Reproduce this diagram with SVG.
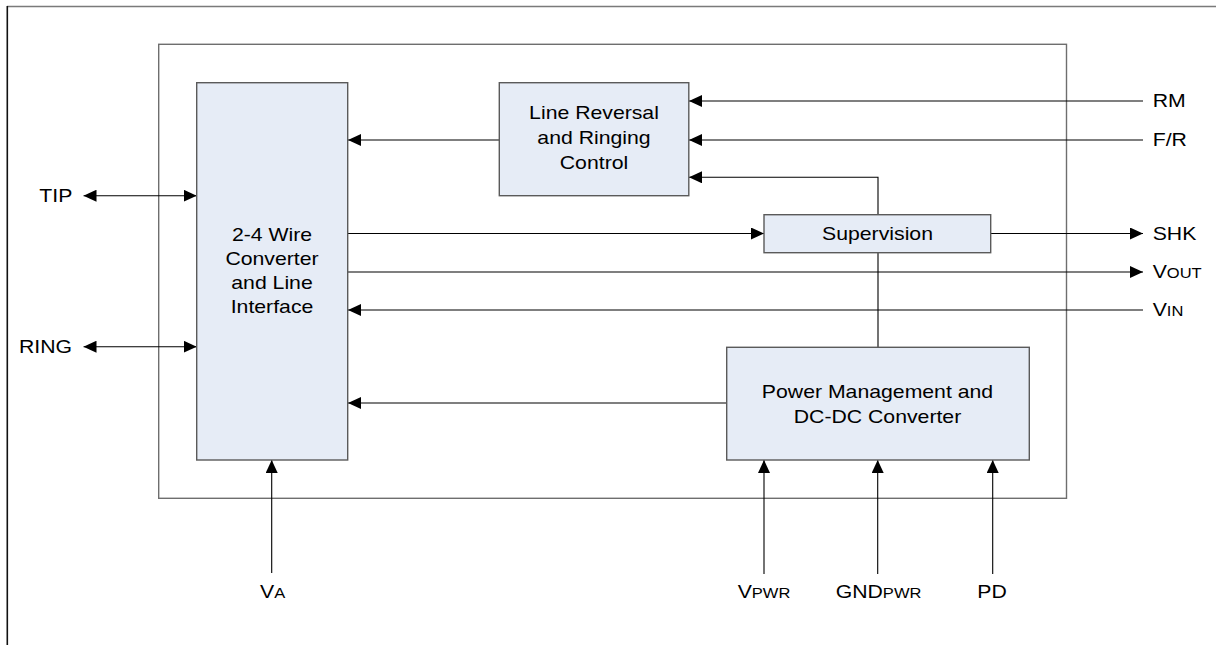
<svg xmlns="http://www.w3.org/2000/svg" width="1216" height="645" viewBox="0 0 1216 645">
<defs>
<style>
.frame{fill:none;stroke:#6e6e6e;stroke-width:1.4}
.box{fill:#e6ecf6;stroke:#5a5a5a;stroke-width:1.4}
.ln{fill:none;stroke:#000;stroke-width:1.1}
.t{font-family:"Liberation Sans",Arial,sans-serif;font-size:18px;fill:#000}
.c{text-anchor:middle}
.s{font-size:14px}
</style>
<marker id="ah" viewBox="0 0 13 12" refX="13" refY="6" markerWidth="13" markerHeight="12" markerUnits="userSpaceOnUse" orient="auto-start-reverse">
<path d="M0,0 L13,6 L0,12 z" fill="#000"/>
</marker>
</defs>
<rect width="1216" height="645" fill="#fff"/>
<g id="border">
<line x1="7" y1="6.5" x2="1216" y2="6.5" stroke="#7a7a7a" stroke-width="1.6"/>
<line x1="7.3" y1="6" x2="7.3" y2="645" stroke="#111" stroke-width="1.6"/>
<rect class="frame" x="158.7" y="44.3" width="907.8" height="454"/>
</g>
<g id="connectors">
<line class="ln" x1="1143" y1="101" x2="689" y2="101" marker-end="url(#ah)"/>
<line class="ln" x1="1143" y1="140" x2="689" y2="140" marker-end="url(#ah)"/>
<line class="ln" x1="499" y1="140" x2="348" y2="140" marker-end="url(#ah)"/>
<polyline class="ln" points="878,347 878,177.3 689,177.3" marker-end="url(#ah)"/>
<line class="ln" x1="348" y1="233.5" x2="764" y2="233.5" marker-end="url(#ah)"/>
<line class="ln" x1="991" y1="233.5" x2="1143" y2="233.5" marker-end="url(#ah)"/>
<line class="ln" x1="348" y1="272" x2="1143" y2="272" marker-end="url(#ah)"/>
<line class="ln" x1="1143" y1="310" x2="348" y2="310" marker-end="url(#ah)"/>
<line class="ln" x1="726.7" y1="403" x2="348" y2="403" marker-end="url(#ah)"/>
<line class="ln" x1="83.5" y1="195.7" x2="196.7" y2="195.7" marker-start="url(#ah)" marker-end="url(#ah)"/>
<line class="ln" x1="83.5" y1="346.7" x2="196.7" y2="346.7" marker-start="url(#ah)" marker-end="url(#ah)"/>
<line class="ln" x1="271.7" y1="573" x2="271.7" y2="460" marker-end="url(#ah)"/>
<line class="ln" x1="764" y1="574" x2="764" y2="460" marker-end="url(#ah)"/>
<line class="ln" x1="877.7" y1="574" x2="877.7" y2="460" marker-end="url(#ah)"/>
<line class="ln" x1="992.7" y1="574" x2="992.7" y2="460" marker-end="url(#ah)"/>
</g>
<g id="wire-converter">
<rect class="box" x="196.7" y="82.7" width="151" height="377.3"/>
<text class="t c" transform="translate(272,241) scale(1.18,1)">2-4 Wire</text>
<text class="t c" transform="translate(272,265) scale(1.18,1)">Converter</text>
<text class="t c" transform="translate(272,289) scale(1.18,1)">and Line</text>
<text class="t c" transform="translate(272,313) scale(1.18,1)">Interface</text>
</g>
<g id="line-reversal">
<rect class="box" x="499.3" y="82.7" width="189.5" height="113"/>
<text class="t c" transform="translate(594,119) scale(1.18,1)">Line Reversal</text>
<text class="t c" transform="translate(594,143.5) scale(1.18,1)">and Ringing</text>
<text class="t c" transform="translate(594,168.5) scale(1.18,1)">Control</text>
</g>
<g id="supervision">
<rect class="box" x="764" y="214.7" width="226.7" height="38"/>
<text class="t c" transform="translate(877.5,239.5) scale(1.18,1)">Supervision</text>
</g>
<g id="power-management">
<rect class="box" x="726.7" y="347.3" width="302.6" height="112.7"/>
<text class="t c" transform="translate(877.5,397.5) scale(1.18,1)">Power Management and</text>
<text class="t c" transform="translate(877.5,423) scale(1.18,1)">DC-DC Converter</text>
</g>
<g id="labels">
<text class="t" transform="translate(1152.7,107.3) scale(1.18,1)">RM</text>
<text class="t" transform="translate(1152.7,145.7) scale(1.18,1)">F/R</text>
<text class="t" transform="translate(1152.7,239.5) scale(1.18,1)">SHK</text>
<text class="t" transform="translate(1152.7,277.5) scale(1.18,1)">V<tspan class="s">OUT</tspan></text>
<text class="t" transform="translate(1152.7,315.5) scale(1.18,1)">V<tspan class="s">IN</tspan></text>
<text class="t" transform="translate(39.3,202.3) scale(1.18,1)">TIP</text>
<text class="t" transform="translate(19,352.7) scale(1.18,1)">RING</text>
<text class="t" transform="translate(260,598.3) scale(1.18,1)">V<tspan class="s">A</tspan></text>
<text class="t" transform="translate(737.7,598.3) scale(1.18,1)">V<tspan class="s">PWR</tspan></text>
<text class="t" transform="translate(835.7,598.3) scale(1.18,1)">GND<tspan class="s">PWR</tspan></text>
<text class="t" transform="translate(977.3,598.3) scale(1.18,1)">PD</text>
</g>
</svg>
